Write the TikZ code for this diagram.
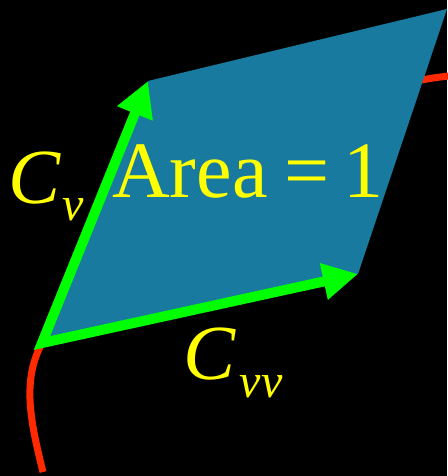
\documentclass[tikz,border=0pt]{standalone}
\usepackage{fontspec}
\setmainfont{Liberation Serif}
\usetikzlibrary{arrows.meta}
\definecolor{sheet}{HTML}{187A9E}
\definecolor{vecgreen}{HTML}{00FF00}
\definecolor{curvered}{HTML}{FF2A00}
\definecolor{labelyellow}{HTML}{FFFF00}
\begin{document}
\begin{tikzpicture}[x=1pt,y=-1pt,vec/.style={vecgreen,line width=10pt,line join=miter,{Triangle[length=35pt,width=36pt]}-{Triangle[length=35pt,width=35pt]}},curveline/.style={curvered,line width=7pt},lbl/.style={labelyellow,inner sep=0pt,anchor=base west}]
\useasboundingbox (0,0) rectangle (447,476); \fill[black] (0,0) rectangle (447,476);
\coordinate (A) at (42,343); \coordinate (B) at (148,81); \coordinate (C) at (447,9); \coordinate (D) at (358,274);
\coordinate (S) at (43,472); \coordinate (E) at (449,76);
\draw[curveline] (S) .. controls (30,420) and (22,380) .. (A) .. controls (140,200) and (300,92) .. (E);
\fill[sheet] (A) -- (B) -- (C) -- (D) -- cycle;
\draw[vec] (B) -- (A) -- (D);
\node[lbl] (area) at (112,197) {\fontsize{80}{96}\selectfont Area\kern17pt=\kern14pt1};
\node[lbl] (cv) at (8,203) {\fontsize{78}{90}\selectfont\textit{C}\kern2pt\raisebox{-17pt}{\fontsize{48}{50}\selectfont\textit{v}}};
\node[lbl] (cvv) at (183,379) {\fontsize{78}{90}\selectfont\textit{C}\kern4pt\raisebox{-18pt}{\fontsize{48}{50}\selectfont\textit{vv}}};
\end{tikzpicture}
\end{document}
